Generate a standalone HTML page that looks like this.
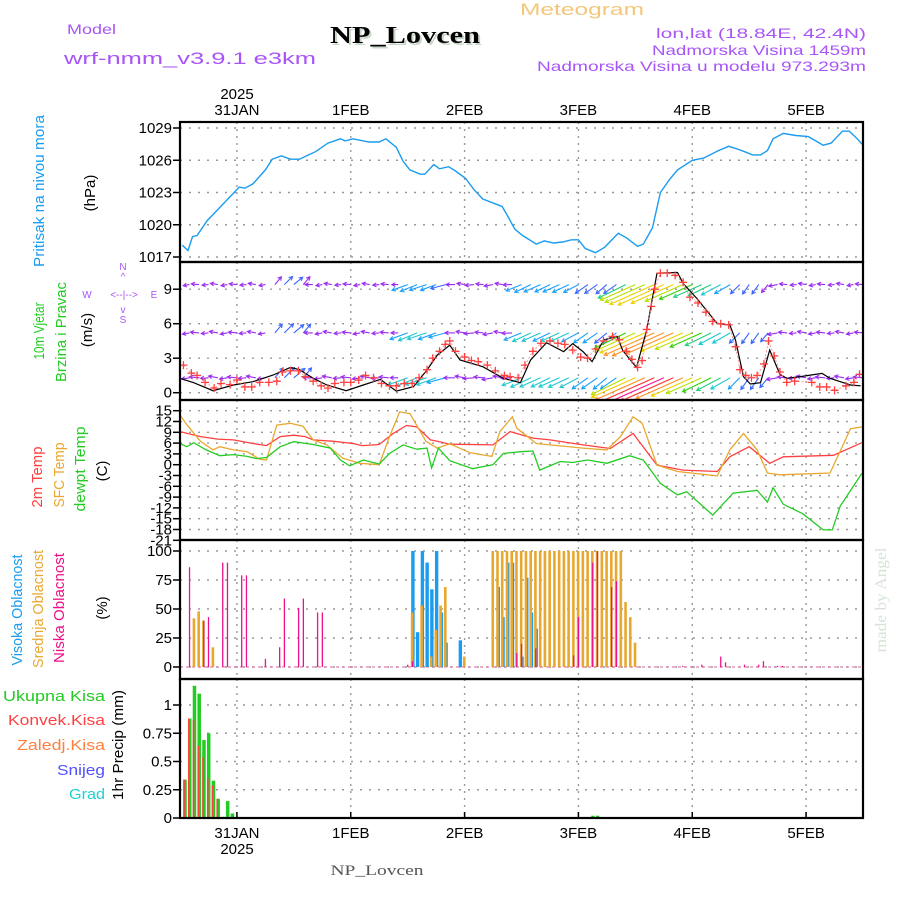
<!DOCTYPE html>
<html><head><meta charset="utf-8"><title>Meteogram NP_Lovcen</title>
<style>
html,body{margin:0;padding:0;background:#fff;}
svg{display:block;font-family:"Liberation Sans",sans-serif;}
</style></head>
<body>
<svg id="chart" xmlns="http://www.w3.org/2000/svg" width="900" height="900" viewBox="0 0 900 900">
<rect x="0" y="0" width="900" height="900" fill="#fff"/>
<defs>
<clipPath id="clipP"><rect x="180" y="122" width="683" height="140"/></clipPath>
<clipPath id="clipW"><rect x="180" y="262" width="683" height="138"/></clipPath>
<clipPath id="clipT"><rect x="180" y="400" width="683" height="140"/></clipPath>
</defs>
<!-- header -->
<text x="520" y="15" font-size="17" fill="#f3c77a" textLength="124" lengthAdjust="spacingAndGlyphs">Meteogram</text>
<text x="67" y="34" font-size="14" fill="#a855f7" textLength="49" lengthAdjust="spacingAndGlyphs">Model</text>
<text x="64" y="64" font-size="17" fill="#a855f7" textLength="252" lengthAdjust="spacingAndGlyphs">wrf-nmm_v3.9.1 e3km</text>
<text x="407" y="45" font-size="24" font-weight="bold" font-family="Liberation Serif, serif" fill="#c8d8c8" text-anchor="middle" textLength="150" lengthAdjust="spacingAndGlyphs">NP_Lovcen</text>
<text x="405" y="43" font-size="24" font-weight="bold" font-family="Liberation Serif, serif" fill="#000" text-anchor="middle" textLength="150" lengthAdjust="spacingAndGlyphs">NP_Lovcen</text>
<text x="866" y="38" font-size="14" fill="#a855f7" text-anchor="end" textLength="210" lengthAdjust="spacingAndGlyphs">lon,lat (18.84E, 42.4N)</text>
<text x="866" y="55" font-size="14" fill="#a855f7" text-anchor="end" textLength="214" lengthAdjust="spacingAndGlyphs">Nadmorska Visina 1459m</text>
<text x="866" y="71" font-size="14" fill="#a855f7" text-anchor="end" textLength="329" lengthAdjust="spacingAndGlyphs">Nadmorska Visina u modelu 973.293m</text>
<text x="237" y="99" font-size="15" fill="#000" text-anchor="middle">2025</text>

<!-- left labels -->
<text transform="translate(44,191) rotate(-90)" font-size="15" fill="#1a9cf0" text-anchor="middle" textLength="152" lengthAdjust="spacingAndGlyphs">Pritisak na nivou mora</text>
<text transform="translate(95,193) rotate(-90)" font-size="15" fill="#000" text-anchor="middle">(hPa)</text>
<text transform="translate(44,331) rotate(-90)" font-size="15" fill="#22cc22" text-anchor="middle" textLength="57" lengthAdjust="spacingAndGlyphs">10m Vjetar</text>
<text transform="translate(66,332) rotate(-90)" font-size="15" fill="#22cc22" text-anchor="middle" textLength="100" lengthAdjust="spacingAndGlyphs">Brzina i Pravac</text>
<text transform="translate(92,330) rotate(-90)" font-size="15" fill="#000" text-anchor="middle">(m/s)</text>
<g font-size="10" fill="#a855f7" text-anchor="middle">
<text x="123" y="270">N</text><text x="123" y="280">^</text>
<text x="87" y="298">W</text><text x="124" y="298">&lt;--|--&gt;</text><text x="154" y="298">E</text>
<text x="123" y="313">v</text><text x="123" y="323">S</text>
</g>
<text transform="translate(42,477) rotate(-90)" font-size="15" fill="#ff4040" text-anchor="middle" textLength="61" lengthAdjust="spacingAndGlyphs">2m Temp</text>
<text transform="translate(64,475) rotate(-90)" font-size="15" fill="#e8a830" text-anchor="middle" textLength="65" lengthAdjust="spacingAndGlyphs">SFC Temp</text>
<text transform="translate(85,469) rotate(-90)" font-size="15" fill="#22cc22" text-anchor="middle" textLength="85" lengthAdjust="spacingAndGlyphs">dewpt Temp</text>
<text transform="translate(107,471) rotate(-90)" font-size="15" fill="#000" text-anchor="middle">(C)</text>
<text transform="translate(22,610) rotate(-90)" font-size="15" fill="#1a9cf0" text-anchor="middle" textLength="111" lengthAdjust="spacingAndGlyphs">Visoka Oblacnost</text>
<text transform="translate(43,609) rotate(-90)" font-size="15" fill="#e8a830" text-anchor="middle" textLength="118" lengthAdjust="spacingAndGlyphs">Srednja Oblacnost</text>
<text transform="translate(64,608) rotate(-90)" font-size="15" fill="#ee1188" text-anchor="middle" textLength="110" lengthAdjust="spacingAndGlyphs">Niska Oblacnost</text>
<text transform="translate(107,608) rotate(-90)" font-size="15" fill="#000" text-anchor="middle">(%)</text>
<g font-size="15" text-anchor="end">
<text x="105" y="701" fill="#22cc22" textLength="102" lengthAdjust="spacingAndGlyphs">Ukupna Kisa</text>
<text x="105" y="725" fill="#ff4040" textLength="97" lengthAdjust="spacingAndGlyphs">Konvek.Kisa</text>
<text x="105" y="750" fill="#ff8040" textLength="88" lengthAdjust="spacingAndGlyphs">Zaledj.Kisa</text>
<text x="105" y="775" fill="#5050ff" textLength="48" lengthAdjust="spacingAndGlyphs">Snijeg</text>
<text x="105" y="799" fill="#20d0d0" textLength="36" lengthAdjust="spacingAndGlyphs">Grad</text>
</g>
<text transform="translate(123,745) rotate(-90)" font-size="15" fill="#000" text-anchor="middle" textLength="110" lengthAdjust="spacingAndGlyphs">1hr Precip (mm)</text>
<text transform="translate(886,600) rotate(-90)" font-size="16" fill="#d6e4d6" text-anchor="middle" font-family="Liberation Serif, serif" textLength="105" lengthAdjust="spacingAndGlyphs">made by Angel</text>
<text x="237" y="854" font-size="15" fill="#000" text-anchor="middle">2025</text>
<text x="377" y="875" font-size="15" fill="#555" font-family="Liberation Serif, serif" text-anchor="middle" textLength="93" lengthAdjust="spacingAndGlyphs">NP_Lovcen</text>

<g id="grid"></g>
<g id="marks"></g>
<g id="frames"></g>
</svg>
<script>
// ---------- DATA ----------
const dayLabels = ["31JAN","1FEB","2FEB","3FEB","4FEB","5FEB"];
const pressTicks = [1017,1020,1023,1026,1029];
const windTicks = [0,3,6,9];
const tempTicks = [15,12,9,6,3,0,-3,-6,-9,-12,-15,-18,-21];
const cloudTicks = [0,25,50,75,100];
const precipTicks = [0,0.25,0.5,0.75,1];
const precipTickLabels = ["0","0.25","0.5","0.75","1"];

// days since 30JAN 12Z
const presDays = [0.02,0.07,0.11,0.15,0.24,0.34,0.52,0.57,0.64,0.75,0.81,0.89,0.97,1.05,1.13,1.19,1.30,1.41,1.45,1.52,1.66,1.75,1.81,1.90,1.96,2.02,2.11,2.15,2.23,2.28,2.36,2.42,2.51,2.58,2.66,2.78,2.83,2.88,2.94,3.01,3.13,3.20,3.28,3.36,3.44,3.50,3.56,3.65,3.73,3.85,3.92,4.02,4.07,4.15,4.22,4.30,4.37,4.50,4.60,4.73,4.82,4.88,4.96,5.03,5.10,5.16,5.21,5.30,5.41,5.52,5.65,5.72,5.82,5.88,5.95,6.0];
const presVals = [1018.1,1017.6,1018.9,1019.0,1020.4,1021.5,1023.5,1023.4,1023.8,1025.1,1026.1,1026.4,1026.1,1026.1,1026.5,1026.8,1027.6,1028.0,1027.8,1028.0,1027.7,1027.7,1028.0,1027.2,1025.9,1025.1,1024.7,1024.7,1025.6,1025.2,1025.4,1025.0,1024.3,1023.3,1022.4,1021.9,1021.7,1020.8,1019.6,1019.0,1018.2,1018.5,1018.3,1018.4,1018.6,1018.6,1017.8,1017.4,1017.9,1019.2,1018.8,1018.0,1018.2,1019.7,1023.0,1024.2,1025.1,1026.0,1026.2,1026.9,1027.3,1027.1,1026.8,1026.5,1026.5,1026.9,1028.0,1028.5,1028.3,1028.2,1027.4,1027.6,1028.7,1028.7,1028.0,1027.4];

const windDays = [0,0.12,0.29,0.47,0.64,0.82,0.97,1.05,1.17,1.29,1.46,1.61,1.76,1.90,2.05,2.17,2.26,2.37,2.46,2.66,2.84,2.99,3.08,3.22,3.37,3.45,3.54,3.62,3.72,3.84,3.89,4.01,4.10,4.19,4.37,4.42,4.54,4.72,4.83,4.88,4.95,5.01,5.10,5.18,5.27,5.33,5.45,5.64,5.71,5.89,5.98];
const windVals = [1.25,0.87,0.17,0.67,0.96,1.54,2.2,2.0,1.25,0.67,0.17,0.67,1.16,0.14,0.52,1.97,3.27,4.14,2.84,2.26,1.25,0.87,2.84,4.35,3.57,4.26,3.57,2.70,4.58,4.9,3.66,2.2,5.45,10.4,10.45,9.5,8.2,6.0,5.9,4.58,1.39,0.76,0.87,3.7,1.6,1.25,1.4,1.68,1.25,0.67,0.6];

const gustDays = [0.03,0.1,0.15,0.22,0.3,0.36,0.44,0.5,0.57,0.63,0.7,0.78,0.85,0.9,0.97,1.04,1.1,1.17,1.24,1.3,1.36,1.44,1.5,1.57,1.63,1.7,1.77,1.84,1.9,1.97,2.04,2.1,2.17,2.22,2.28,2.33,2.37,2.42,2.5,2.56,2.62,2.7,2.77,2.85,2.9,2.97,3.03,3.1,3.17,3.25,3.32,3.38,3.45,3.52,3.58,3.65,3.72,3.8,3.86,3.92,3.97,4.02,4.06,4.1,4.14,4.17,4.22,4.28,4.35,4.42,4.48,4.55,4.62,4.68,4.75,4.82,4.88,4.92,4.97,5.02,5.07,5.13,5.17,5.22,5.27,5.33,5.4,5.55,5.62,5.68,5.75,5.85,5.92,5.97];
const gustVals = [2.4,1.7,1.5,0.9,0.4,0.8,0.7,1.1,0.5,0.5,0.9,0.9,1.0,1.8,1.9,1.9,1.4,1.0,0.6,0.4,0.8,0.9,0.9,1.1,1.5,1.3,0.8,0.6,0.6,0.8,0.8,1.3,2.0,3.0,3.6,4.2,4.5,3.6,3.1,2.8,2.7,2.4,1.9,1.5,1.4,1.3,2.4,3.6,4.3,4.5,4.3,4.2,3.7,3.1,3.0,3.8,4.5,4.9,4.6,3.6,2.9,2.2,2.8,5.5,7.5,9.0,10.4,10.4,10.2,9.6,8.3,7.8,7.0,6.2,6.0,5.9,4.0,2.0,1.5,1.3,1.5,2.5,4.5,3.2,1.8,0.9,1.0,0.9,0.5,0.5,0.2,0.6,0.9,1.6];

// wind arrows every 2 hours: speed (m/s) and direction (deg, from)
const arrowSpd = [3,2.5,3,2.5,3,2.5,3,2.5,3,2.5,4,4.5,4.5,4,3,2.5,3,2.5,3,2.5,3,2.5,3,2.5,6.5,7,7,6.5,6,3.5,3,3.5,3,3.5,3,3.5,6.5,7,7,6.5,7,7,6.5,6,6,5.5,6,12,15,17,19,19.5,18,16,14,12,10,8.5,7,5,4.5,4.5,4,3.5,3,2.5,3,2.5,3,2.5,3,2.5,3];
const arrowDir = [100,80,95,85,100,80,95,85,100,80,220,225,230,220,90,80,100,85,95,80,100,85,95,90,70,68,72,70,75,90,100,85,95,80,100,88,68,65,66,64,66,65,62,55,55,50,55,64,66,66,66,66,66,66,66,66,64,62,60,45,35,35,40,80,95,85,100,80,95,85,100,80,95];
const rowLevels = [9.4,5.2,1.3];
const rowScales = [0.8,0.9,1.0];

const t2Days = [0,0.18,0.33,0.47,0.64,0.76,0.88,1.0,1.1,1.17,1.35,1.52,1.6,1.75,1.87,1.99,2.08,2.2,2.26,2.37,2.75,2.9,3.1,3.25,3.54,3.78,3.98,4.19,4.42,4.72,4.83,5.0,5.18,5.3,5.74,5.99];
const t2Vals = [9.2,7.8,7.1,6.9,5.9,5.3,7.8,8.2,7.8,6.9,6.5,5.9,5.3,5.6,8.6,10.9,10.5,6.9,6.5,5.7,5.5,9.2,7.4,6.9,5.5,4.5,8.7,-0.1,-1.5,-1.9,2.2,5.0,0.4,2.2,2.6,6.1];
const sfcDays = [0,0.06,0.18,0.29,0.35,0.47,0.59,0.7,0.76,0.85,0.97,1.08,1.17,1.29,1.43,1.58,1.75,1.84,1.93,2.02,2.16,2.26,2.37,2.55,2.74,2.81,2.92,2.96,3.13,3.25,3.54,3.75,3.87,3.98,4.06,4.19,4.37,4.72,4.83,4.95,5.07,5.16,5.27,5.71,5.79,5.89,5.99];
const sfcVals = [13.8,11.1,6.5,4.1,5.0,4.1,3.6,1.5,1.3,11.0,11.5,10.7,6.9,5.5,1.8,0.4,0,7.8,14.7,14.2,6.5,4.6,5.8,3.3,2.3,9.2,13.3,10.1,5.9,5.5,4.6,4.1,7.8,13.3,11.5,-0.1,-1.9,-3.1,4.1,8.7,4.1,-2.3,-2.8,-2.3,3.1,10.0,10.5];
const dewDays = [0,0.06,0.12,0.23,0.35,0.47,0.59,0.67,0.76,0.88,1.0,1.17,1.32,1.41,1.49,1.61,1.75,1.84,1.96,2.08,2.17,2.21,2.27,2.37,2.57,2.75,2.84,2.99,3.1,3.16,3.34,3.45,3.58,3.75,3.95,4.07,4.22,4.37,4.45,4.68,4.86,5.07,5.16,5.21,5.3,5.47,5.65,5.73,5.8,5.99];
const dewVals = [5.9,5.0,6.1,4.1,2.5,2.8,2.3,1.7,2.0,5.0,6.4,5.6,4.6,1.3,-0.3,1.3,0.2,3.1,5.5,4.3,4.6,-0.9,4.6,1.1,-1.1,0,3.1,3.6,3.8,-1.5,0.9,0.6,1.3,0.4,2.5,1.3,-5.2,-8.4,-7.5,-14,-7.9,-7.1,-10.4,-6.4,-11.0,-13.6,-18.1,-18.1,-11.5,-2.4];

// cloud cover, hours since 30JAN 12Z
const highHours = [49,50,51,52,53,54,55,56,59,67,68,69,70,72,73,74,75];
const highVals = [100,30,100,90,67,100,47,21,23,69,43,90,90,9,77,47,33];
const midHours = [3,4,5,7,49,51,53,54,55,56,60,66,67,68,69,70,71,72,73,74,75,76,77,78,79,80,81,82,83,84,85,86,87,88,89,90,91,92,93,94,95,96];
const midVals = [42,48,40,17,47,53,9,32,53,69,9,100,100,100,100,100,100,100,100,100,100,100,100,100,100,100,100,100,100,100,100,100,100,100,100,100,100,100,100,56,43,21];
const lowHours = [2,5,6,9,10,13,14,18,21,22,25,26,29,30,48,49,71,72,75,83,84,87,88,91,92,106,110,114,115,119,122,123,126,127];
const lowVals = [86,40,43,90,90,79,79,7,17,59,51,59,47,47,2,5,12,20,16,10,43,90,100,69,74,1,2,9,4,2,2,5,1,1];

// precipitation (mm/h)
const precipHours = [1,2,3,4,5,6,7,8,9,10,11,12,87,88];
const totalPrecip = [0.34,0.88,1.17,1.10,0.69,0.75,0.33,0.17,0.01,0.15,0.04,0.01,0.02,0.02];
const convPrecip = [0.34,0.88,0.87,0.64,0.54,0.35,0.29,0.17,0,0,0,0,0,0];

// ---------- SCALES ----------
const X0 = 180, X1 = 863, NDAYS = 6;
function xd(d){ return X0 + d*(X1-X0)/NDAYS; }
function xh(h){ return xd(h/24); }
function yP(v){ return 257 - (v-1017)*10.75; }
function yW(v){ return 392.7 - v*11.5; }
function yT(v){ return 464.7 - v*3.6; }
function yC(v){ return 667 - v*1.16; }
function yR(v){ return 818 - v*113; }
const panels = [
  {name:'pressure', top:122, bot:262, ticks:pressTicks, labels:pressTicks.map(String), y:yP},
  {name:'wind', top:262, bot:400, ticks:windTicks, labels:windTicks.map(String), y:yW},
  {name:'temp', top:400, bot:540, ticks:tempTicks, labels:tempTicks.map(String), y:yT},
  {name:'cloud', top:540, bot:679, ticks:cloudTicks, labels:cloudTicks.map(String), y:yC},
  {name:'precip', top:679, bot:818, ticks:precipTicks, labels:precipTickLabels, y:yR}
];

const NS = 'http://www.w3.org/2000/svg';
function mk(parent, tag, attrs){
  const el = document.createElementNS(NS, tag);
  for (const k in attrs) el.setAttribute(k, attrs[k]);
  parent.appendChild(el);
  return el;
}
const grid = document.getElementById('grid');
const marks = document.getElementById('marks');
const frames = document.getElementById('frames');

// ---------- AXES / GRID ----------
panels.forEach(p => {
  dayLabels.forEach((lab, i) => {
    const x = xd(i+0.5);
    const g = mk(grid, 'line', {x1:x, x2:x, y1:p.top, y2:p.bot, stroke:'#999', 'stroke-width':1.4, 'stroke-dasharray':'2,5'});
    
    
  });
  p.ticks.forEach((t, i) => {
    const y = p.y(t);
    const g = mk(grid, 'line', {x1:X0, x2:X1, y1:y, y2:y, stroke:'#999', 'stroke-width':1.4, 'stroke-dasharray':'2,7'});
    
    
    const tk = mk(frames, 'line', {x1:X0-7, x2:X0, y1:y, y2:y, stroke:'#000', 'stroke-width':1.5});
    
    
    const tx = mk(frames, 'text', {x:X0-8, y:y+5, 'font-size':15, 'text-anchor':'end', fill:'#000'});
    tx.textContent = p.labels[i];
    
    
  });
  const fr = mk(frames, 'rect', {x:X0, y:p.top, width:X1-X0, height:p.bot-p.top, fill:'none', stroke:'#000', 'stroke-width':2.2});
  
  
});
dayLabels.forEach((lab, i) => {
  const x = xd(i+0.5);
  const t1 = mk(frames, 'text', {x:x, y:115, 'font-size':15, 'text-anchor':'middle', fill:'#000'});
  t1.textContent = lab;
  
  
  const t2 = mk(frames, 'text', {x:x, y:838, 'font-size':15, 'text-anchor':'middle', fill:'#000'});
  t2.textContent = lab;
  
  
  const tk = mk(frames, 'line', {x1:x, x2:x, y1:818, y2:812, stroke:'#000', 'stroke-width':1.5});
  
  
});

function linePath(days, vals, yf){
  return days.map((d,i) => (i?'L':'M') + xd(d).toFixed(1) + ',' + yf(vals[i]).toFixed(1)).join(' ');
}

// ---------- PRESSURE ----------
const pl = mk(marks, 'path', {d:linePath(presDays, presVals, yP), fill:'none', stroke:'#1a9cf0', 'stroke-width':1.4, 'clip-path':'url(#clipP)'});



// ---------- WIND ----------
function spdColor(s){
  if (s < 3.6) return '#9a2cf0';
  if (s < 5) return '#3a66ff';
  if (s < 6.2) return '#1aa0ff';
  if (s < 8) return '#1fc8d0';
  if (s < 10) return '#20d080';
  if (s < 12) return '#30d000';
  if (s < 14) return '#b8e000';
  if (s < 16) return '#f0d000';
  if (s < 18) return '#ff9020';
  if (s < 19.5) return '#ff3030';
  return '#ff1090';
}
const windG = mk(marks, 'g', {'clip-path':'url(#clipW)'});


rowLevels.forEach((lvl, r) => {
  arrowSpd.forEach((s, i) => {
    const bx = xh(i*2), by = yW(lvl);
    const L = s*3.2*rowScales[r];
    const th = (arrowDir[i]+180)*Math.PI/180;
    const dx = Math.sin(th)*L, dy = -Math.cos(th)*L;
    const tx = bx+dx, ty = by+dy;
    const a = Math.atan2(dy, dx);
    const h = 4;
    const c = spdColor(s*rowScales[r]);
    const d = 'M'+bx.toFixed(1)+','+by.toFixed(1)+' L'+tx.toFixed(1)+','+ty.toFixed(1)+
      ' M'+(tx-h*Math.cos(a-0.5)).toFixed(1)+','+(ty-h*Math.sin(a-0.5)).toFixed(1)+' L'+tx.toFixed(1)+','+ty.toFixed(1)+
      ' L'+(tx-h*Math.cos(a+0.5)).toFixed(1)+','+(ty-h*Math.sin(a+0.5)).toFixed(1);
    const ar = mk(windG, 'path', {d:d, fill:'none', stroke:c, 'stroke-width':1.1});
    
    
  });
});
const wl = mk(marks, 'path', {d:linePath(windDays, windVals, yW), fill:'none', stroke:'#000', 'stroke-width':1.2, 'clip-path':'url(#clipW)'});


const gl = mk(marks, 'path', {d:linePath(gustDays, gustVals, yW), fill:'none', stroke:'#ff8080', 'stroke-width':0.8, 'stroke-dasharray':'2,2', 'clip-path':'url(#clipW)'});


gustDays.forEach((d, i) => {
  const x = xd(d), y = yW(gustVals[i]);
  const m = mk(marks, 'path', {d:'M'+(x-4)+','+y+' H'+(x+4)+' M'+x+','+(y-4)+' V'+(y+4), stroke:'#ff4040', 'stroke-width':1.3, fill:'none'});
  
  
});

// ---------- TEMPERATURE ----------
[[t2Days,t2Vals,'#ff4040','temp-2m-line'],[sfcDays,sfcVals,'#e8a830','sfc-temp-line'],[dewDays,dewVals,'#22cc22','dewpoint-line']].forEach(s => {
  const l = mk(marks, 'path', {d:linePath(s[0], s[1], yT), fill:'none', stroke:s[2], 'stroke-width':1.3, 'clip-path':'url(#clipT)'});
  
  
});

// ---------- CLOUDS ----------
const cb = mk(marks, 'line', {x1:X0, x2:X1, y1:yC(0), y2:yC(0), stroke:'#e080b0', 'stroke-width':1.2, 'stroke-dasharray':'3,3'});


highHours.forEach((h, i) => {
  const b = mk(marks, 'rect', {x:xh(h)-1.2, y:yC(highVals[i]), width:3.4, height:yC(0)-yC(highVals[i]), fill:'#1a9cf0'});
  
  
});
midHours.forEach((h, i) => {
  const b = mk(marks, 'rect', {x:xh(h)-1.6, y:yC(midVals[i]), width:2.6, height:yC(0)-yC(midVals[i]), fill:'#e8a830'});
  
  
});
lowHours.forEach((h, i) => {
  const b = mk(marks, 'rect', {x:xh(h)-0.6, y:yC(lowVals[i]), width:1.3, height:yC(0)-yC(lowVals[i]), fill:'#ee1188'});
  
  
});

// ---------- PRECIP ----------
precipHours.forEach((h, i) => {
  const g = mk(marks, 'rect', {x:xh(h)-1.5, y:yR(totalPrecip[i]), width:3.5, height:yR(0)-yR(totalPrecip[i]), fill:'#22cc22'});
  
  
  if (convPrecip[i] > 0) {
    const r = mk(marks, 'rect', {x:xh(h)-1.5, y:yR(convPrecip[i]), width:1.6, height:yR(0)-yR(convPrecip[i]), fill:'#ff4040'});
    
    
  }
});
</script>
</body></html>
